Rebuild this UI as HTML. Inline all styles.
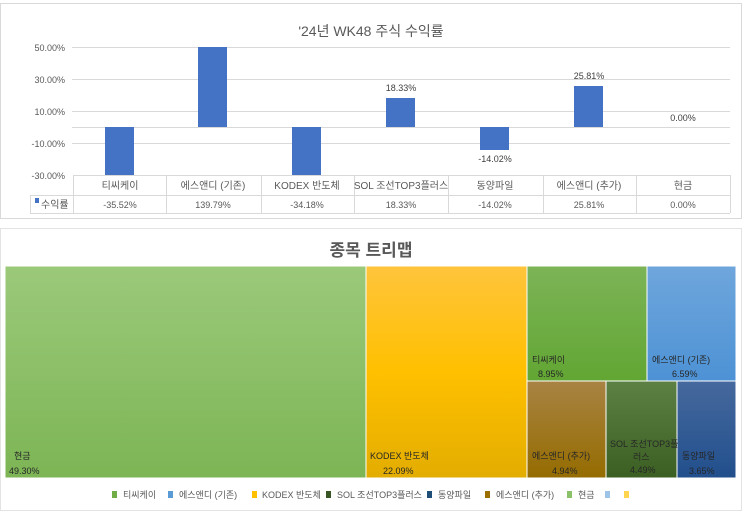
<!DOCTYPE html>
<html><head><meta charset="utf-8"><style>
body{margin:0;background:#fff;width:743px;height:515px;overflow:hidden}
svg text{font-family:"Liberation Sans","Noto Sans CJK KR",sans-serif}
</style></head><body>
<svg width="743" height="515" xmlns="http://www.w3.org/2000/svg">
<defs>
<linearGradient id="g1" x1="0" y1="0" x2="0" y2="1"><stop offset="0" stop-color="#9bc97a"/><stop offset="1" stop-color="#7db555"/></linearGradient>
<linearGradient id="g2" x1="0" y1="0" x2="0" y2="1"><stop offset="0" stop-color="#ffc43c"/><stop offset="0.5" stop-color="#ffc000"/><stop offset="1" stop-color="#e3ad00"/></linearGradient>
<linearGradient id="g3" x1="0" y1="0" x2="0" y2="1"><stop offset="0" stop-color="#7cb457"/><stop offset="1" stop-color="#62a633"/></linearGradient>
<linearGradient id="g4" x1="0" y1="0" x2="0" y2="1"><stop offset="0" stop-color="#6fa6dc"/><stop offset="1" stop-color="#4d92d5"/></linearGradient>
<linearGradient id="g5" x1="0" y1="0" x2="0" y2="1"><stop offset="0" stop-color="#a88343"/><stop offset="1" stop-color="#956c00"/></linearGradient>
<linearGradient id="g6" x1="0" y1="0" x2="0" y2="1"><stop offset="0" stop-color="#5d8145"/><stop offset="1" stop-color="#3b5f22"/></linearGradient>
<linearGradient id="g7" x1="0" y1="0" x2="0" y2="1"><stop offset="0" stop-color="#46699e"/><stop offset="1" stop-color="#214f8c"/></linearGradient>
</defs>
<rect x="0.5" y="3.5" width="741" height="215" fill="#fff" stroke="#d9d9d9"/>
<text x="371" y="36" font-size="14" fill="#595959" text-anchor="middle">'24년 WK48  주식 수익률</text>
<g stroke="#d9d9d9" stroke-width="1">
<line x1="72" y1="47.5" x2="730" y2="47.5"/><line x1="72" y1="79.5" x2="730" y2="79.5"/><line x1="72" y1="111.5" x2="730" y2="111.5"/><line x1="72" y1="127.5" x2="730" y2="127.5"/><line x1="72" y1="143.5" x2="730" y2="143.5"/>
</g>
<g font-size="9" fill="#595959" text-anchor="end">
<text x="65" y="51">50.00%</text><text x="65" y="83">30.00%</text><text x="65" y="115">10.00%</text><text x="65" y="147">-10.00%</text><text x="65" y="179">-30.00%</text>
</g>
<g fill="#4472c4">
<rect x="105" y="127" width="29" height="48"/><rect x="198" y="47" width="29" height="80"/><rect x="292" y="127" width="29" height="48"/><rect x="386" y="98" width="29" height="29"/><rect x="480" y="127" width="29" height="23"/><rect x="574" y="86" width="29" height="41"/>
</g>
<g font-size="9" fill="#404040" text-anchor="middle">
<text x="401" y="91">18.33%</text><text x="495" y="162">-14.02%</text><text x="589" y="79">25.81%</text><text x="683" y="121">0.00%</text>
</g>
<g stroke="#d9d9d9" fill="none">
<path d="M73 175.5H730M30 195.5H730M30 213.5H730M30.5 195V213"/>
<path d="M73.5 175V213M166.5 175V213M261.5 175V213M354.5 175V213M448.5 175V213M543.5 175V213M636.5 175V213M730.5 175V213"/>
</g>
<g font-size="10" fill="#595959" text-anchor="middle">
<text x="120" y="189">티씨케이</text><text x="213" y="189">에스앤디 (기존)</text><text x="307" y="189">KODEX 반도체</text><text x="401" y="189">SOL 조선TOP3플러스</text><text x="495" y="189">동양파일</text><text x="589" y="189">에스앤디 (추가)</text><text x="683" y="189">현금</text>
<text x="120" y="208" font-size="9">-35.52%</text><text x="213" y="208" font-size="9">139.79%</text><text x="307" y="208" font-size="9">-34.18%</text><text x="401" y="208" font-size="9">18.33%</text><text x="495" y="208" font-size="9">-14.02%</text><text x="589" y="208" font-size="9">25.81%</text><text x="683" y="208" font-size="9">0.00%</text>
</g>
<rect x="35" y="198" width="4" height="5" fill="#4472c4"/>
<text x="41" y="208" font-size="10" fill="#595959">수익률</text>

<rect x="0.5" y="228.5" width="741" height="282" fill="#fff" stroke="#e3e3e3"/>
<text x="371" y="256" font-size="17" font-weight="bold" fill="#595959" text-anchor="middle">종목 트리맵</text>
<g stroke="#fff" stroke-width="1">
<rect x="5" y="266" width="361" height="212" fill="url(#g1)"/>
<rect x="366" y="266" width="161" height="212" fill="url(#g2)"/>
<rect x="527" y="266" width="120" height="115" fill="url(#g3)"/>
<rect x="647" y="266" width="89" height="115" fill="url(#g4)"/>
<rect x="527" y="381" width="79" height="97" fill="url(#g5)"/>
<rect x="606" y="381" width="71" height="97" fill="url(#g6)"/>
<rect x="677" y="381" width="59" height="97" fill="url(#g7)"/>
</g>
<g font-size="9" fill="#262626">
<text x="14" y="459">현금</text><text x="9" y="474">49.30%</text>
<text x="370" y="459">KODEX 반도체</text><text x="383" y="474">22.09%</text>
<text x="532" y="363">티씨케이</text><text x="538" y="377">8.95%</text>
<text x="652" y="363">에스앤디 (기존)</text><text x="672" y="377">6.59%</text>
<text x="532" y="459">에스앤디 (추가)</text><text x="552" y="474">4.94%</text>
<text x="610" y="447">SOL 조선TOP3플</text><text x="633" y="460">러스</text><text x="630" y="473">4.49%</text>
<text x="682" y="459">동양파일</text><text x="689" y="474">3.65%</text>
</g>
<g font-size="9" fill="#595959">
<rect x="112" y="491" width="5" height="7" fill="#70ad47"/><text x="123" y="498">티씨케이</text>
<rect x="168" y="491" width="5" height="7" fill="#5b9bd5"/><text x="179" y="498">에스앤디 (기존)</text>
<rect x="252" y="491" width="5" height="7" fill="#ffc000"/><text x="262" y="498">KODEX 반도체</text>
<rect x="326" y="491" width="5" height="7" fill="#375623"/><text x="337" y="498">SOL 조선TOP3플러스</text>
<rect x="427" y="491" width="5" height="7" fill="#1f4e79"/><text x="438" y="498">동양파일</text>
<rect x="485" y="491" width="5" height="7" fill="#9c7000"/><text x="496" y="498">에스앤디 (추가)</text>
<rect x="567" y="491" width="5" height="7" fill="#8bc168"/><text x="578" y="498">현금</text>
<rect x="605" y="491" width="5" height="7" fill="#9dc3e6"/>
<rect x="624" y="491" width="5" height="7" fill="#ffd54f"/>
</g>
</svg>
</body></html>
